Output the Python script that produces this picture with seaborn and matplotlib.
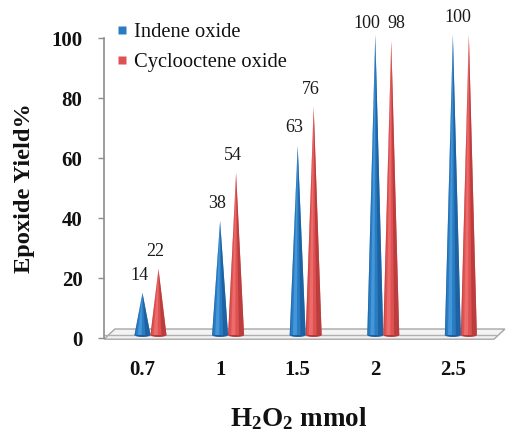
import numpy as np
import pandas as pd
import seaborn as sns
import matplotlib
matplotlib.use('Agg')
import matplotlib.pyplot as plt
from matplotlib.patches import Polygon, Ellipse
from matplotlib.lines import Line2D
import matplotlib.transforms as mtransforms

categories = ['0.7', '1', '1.5', '2', '2.5']
indene = [14, 38, 63, 100, 100]
cyclooctene = [22, 54, 76, 98, 100]
series_names = ['Indene oxide', 'Cyclooctene oxide']
y_ticks = [0, 20, 40, 60, 80, 100]

df = pd.DataFrame({
    'mmol': categories * 2,
    'yield': indene + cyclooctene,
    'series': [series_names[0]] * len(categories) + [series_names[1]] * len(categories),
})

sns.set_theme(style='white')
plt.rcParams['font.family'] = ['Liberation Serif', 'DejaVu Serif']
plt.rcParams['mathtext.fontset'] = 'custom'
plt.rcParams['mathtext.rm'] = 'Liberation Serif'
plt.rcParams['mathtext.bf'] = 'Liberation Serif:bold'
plt.rcParams['mathtext.it'] = 'Liberation Serif:italic'

W, H = 508, 444
fig = plt.figure(figsize=(W / 100, H / 100), dpi=100)
L, R, T, B = 104, 494, 38, 338
ax = fig.add_axes([L / W, 1 - B / H, (R - L) / W, (B - T) / H])

blue = '#2a7cc2'
red = '#e05252'
palette = {series_names[0]: blue, series_names[1]: red}
shades = {blue: ('#1a5c9c', '#4a9ee0'), red: ('#b33838', '#f07272')}

sns.barplot(data=df, x='mmol', y='yield', hue='series', order=categories,
            hue_order=series_names, palette=palette, width=0.412, ax=ax,
            legend=False, saturation=1)

ax.set_ylim(0, 100)
ax.set_xlim(-0.599, 4.427)

# floor slab
floor = Polygon([(0, -0.004), (1, -0.004), (1.028, 0.03), (0.028, 0.03)], closed=True,
                transform=ax.transAxes, facecolor='#f3f3f3', edgecolor='#a6a6a6',
                lw=1, zorder=1, clip_on=False)
ax.add_patch(floor)
ax.add_line(Line2D([0, 1.005], [0.009, 0.009], transform=ax.transAxes, color='#b0b0b0',
                   lw=1, zorder=1.1, clip_on=False))

# cones built from the bar geometry
shift = mtransforms.offset_copy(ax.transData, fig=fig, x=0, y=3, units='dots')
centers = {}
for cont, name in zip(ax.containers, series_names):
    c = palette[name]
    dark, light = shades[c]
    centers[name] = []
    for rect in cont:
        x0 = rect.get_x()
        w = rect.get_width()
        h = rect.get_height()
        rect.set_visible(False)
        xc = x0 + w / 2
        centers[name].append(xc)
        ax.add_patch(Ellipse((xc, 0), w, 1.3, facecolor=dark, edgecolor='none',
                             transform=shift, zorder=2.9, clip_on=False))
        ax.add_patch(Polygon([(x0, 0), (xc, h), (x0 + w, 0)], closed=True, facecolor=c,
                             edgecolor='none', transform=shift, zorder=3, clip_on=False))
        ax.add_patch(Polygon([(x0 + 0.68 * w, 0), (xc, h), (x0 + w, 0)], closed=True,
                             facecolor=dark, edgecolor='none', alpha=0.8,
                             transform=shift, zorder=3.1, clip_on=False))
        ax.add_patch(Polygon([(x0 + 0.2 * w, 0), (xc, h), (x0 + 0.45 * w, 0)], closed=True,
                             facecolor=light, edgecolor='none', alpha=0.8,
                             transform=shift, zorder=3.1, clip_on=False))
        ax.add_patch(Polygon([(x0, 0), (xc, h), (x0 + 0.06 * w, 0)], closed=True,
                             facecolor=dark, edgecolor='none', alpha=0.6,
                             transform=shift, zorder=3.1, clip_on=False))

# data labels
lab_tr = mtransforms.offset_copy(ax.transData, fig=fig, x=-3, y=21, units='dots')
for i in range(len(categories)):
    a, b = indene[i], cyclooctene[i]
    if a == b:
        ax.text(i, a, str(a), transform=lab_tr, ha='center', va='center', fontsize=13,
                color='#1a1a1a', clip_on=False, zorder=5)
    elif abs(a - b) < 8:
        # close values: put both labels on one line, spread apart
        yv = min(a, b)
        for name, v, dx in zip(series_names, (a, b), (-0.07, 0.1)):
            ax.text(centers[name][i] + dx, yv, str(v), transform=lab_tr, ha='center',
                    va='center', fontsize=13, color='#1a1a1a', clip_on=False, zorder=5)
    else:
        for name, v in zip(series_names, (a, b)):
            ax.text(centers[name][i], v, str(v), transform=lab_tr, ha='center', va='center',
                    fontsize=13, color='#1a1a1a', clip_on=False, zorder=5)

# axes styling
for s in ['top', 'right', 'bottom']:
    ax.spines[s].set_visible(False)
ax.spines['left'].set_color('#8c8c8c')
ax.spines['left'].set_linewidth(1.2)
ax.set_yticks(y_ticks)
ax.set_yticklabels([str(v) for v in y_ticks], fontsize=15, fontweight='bold')
ax.set_xticks(range(len(categories)))
ax.set_xticklabels(categories, fontsize=15, fontweight='bold')
ax.tick_params(axis='y', left=True, length=4.5, width=1, color='#8c8c8c', pad=11,
               labelcolor='#111111')
ax.tick_params(axis='x', bottom=False, length=0, pad=16, labelcolor='#111111')
ax.set_ylabel('Epoxide Yield%', fontsize=17.6, fontweight='bold', color='#111111')
ax.yaxis.set_label_coords(-0.177, 0.5)
ax.set_xlabel(r'$\mathbf{H_2O_2}$ mmol', fontsize=19.5, fontweight='bold', color='#111111')
ax.xaxis.set_label_coords(0.5, -0.223)

off = mtransforms.ScaledTranslation(-8 / 100, 0, fig.dpi_scale_trans)
for lab in ax.get_xticklabels():
    lab.set_transform(lab.get_transform() + off)

handles = [Line2D([], [], linestyle='none', marker='s', markersize=5.5,
                  markerfacecolor=c, markeredgecolor='none') for c in (blue, red)]
fig.legend(handles, series_names, loc='upper left',
           bbox_to_anchor=(116.5 / W, 1 - 22.5 / H), bbox_transform=fig.transFigure,
           frameon=False, prop={'family': ['Liberation Serif'], 'size': 14.8},
           handlelength=0.5, handletextpad=0.35,
           labelspacing=0.52, borderpad=0, borderaxespad=0, labelcolor='#111111')

fig.savefig('out.png', dpi=100)
